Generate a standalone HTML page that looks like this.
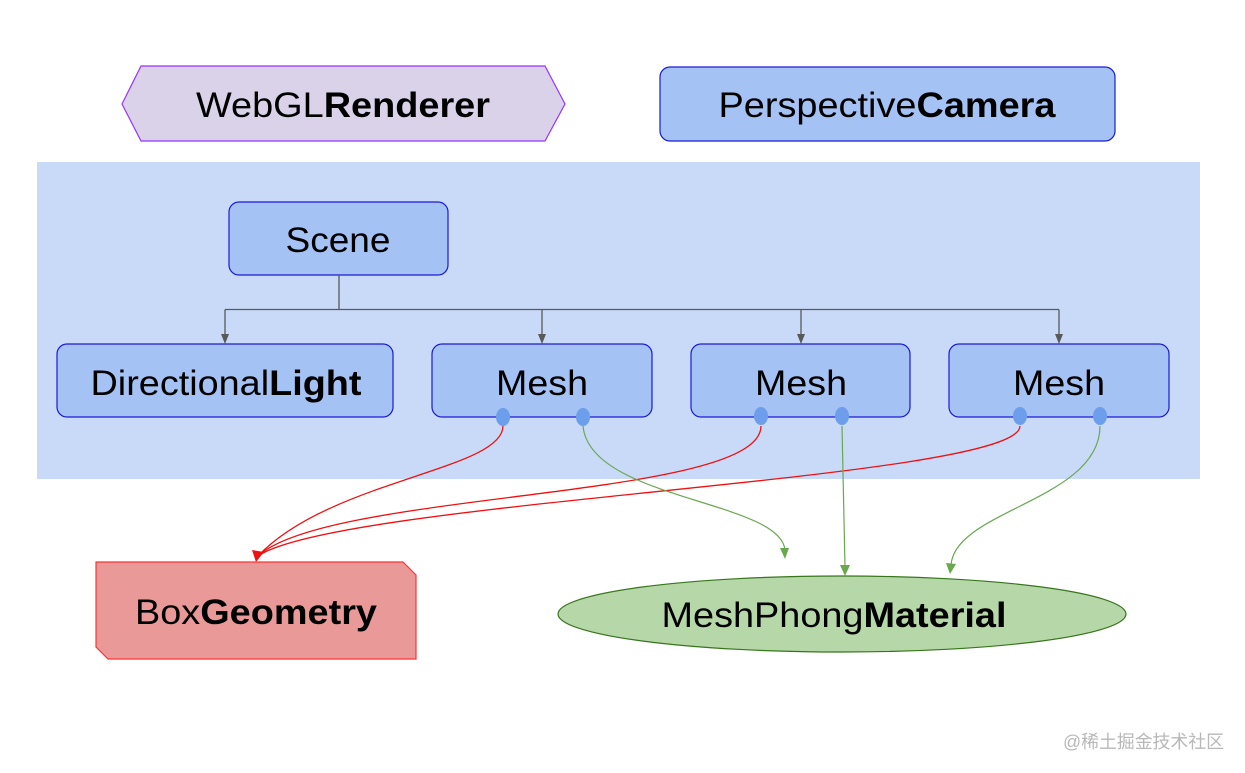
<!DOCTYPE html>
<html><head><meta charset="utf-8"><style>
html,body{margin:0;padding:0;background:#fff;}
svg{display:block;}
text{font-family:"Liberation Sans",Arial,sans-serif;font-size:35px;fill:#000;}
.b{font-weight:bold;}
.wm{font-family:"Liberation Sans","Noto Sans CJK SC",sans-serif;font-size:18px;fill:#b8b8b8;}
</style></head><body>
<svg width="1245" height="773" viewBox="0 0 1245 773" xmlns="http://www.w3.org/2000/svg">
<rect x="37" y="162" width="1163" height="317" fill="#c9daf8"/>
<polygon points="122,104 141,66 545,66 565,104 545,141 141,141" fill="#d9d2e9" stroke="#9933ff" stroke-width="1.2"/>
<text x="343" y="117" text-anchor="middle" textLength="294" lengthAdjust="spacingAndGlyphs">WebGL<tspan class="b">Renderer</tspan></text>
<rect x="660" y="67" width="455" height="74" rx="10" fill="#a4c2f4" stroke="#1a1ad6" stroke-width="1.2"/>
<text x="887" y="117" text-anchor="middle" textLength="337" lengthAdjust="spacingAndGlyphs">Perspective<tspan class="b">Camera</tspan></text>
<rect x="229" y="202" width="219" height="73" rx="10" fill="#a4c2f4" stroke="#1a1ad6" stroke-width="1.2"/>
<text x="338" y="252" text-anchor="middle" textLength="105" lengthAdjust="spacingAndGlyphs">Scene</text>
<g stroke="#595959" stroke-width="1.3" fill="none">
<path d="M339,275 V309.5 M225,309.5 H1059 M225,309.5 V337 M542,309.5 V337 M801,309.5 V337 M1059,309.5 V337"/>
</g>
<g fill="#595959">
<path d="M221,334 L229,334 L225,344 z"/><path d="M538,334 L546,334 L542,344 z"/><path d="M797,334 L805,334 L801,344 z"/><path d="M1055,334 L1063,334 L1059,344 z"/>
</g>
<rect x="57" y="344" width="336" height="73" rx="10" fill="#a4c2f4" stroke="#1a1ad6" stroke-width="1.2"/>
<text x="226" y="395" text-anchor="middle" textLength="271" lengthAdjust="spacingAndGlyphs">Directional<tspan class="b">Light</tspan></text>
<rect x="432" y="344" width="220" height="73" rx="10" fill="#a4c2f4" stroke="#1a1ad6" stroke-width="1.2"/>
<text x="542" y="395" text-anchor="middle" textLength="92" lengthAdjust="spacingAndGlyphs">Mesh</text>
<rect x="691" y="344" width="219" height="73" rx="10" fill="#a4c2f4" stroke="#1a1ad6" stroke-width="1.2"/>
<text x="801" y="395" text-anchor="middle" textLength="92" lengthAdjust="spacingAndGlyphs">Mesh</text>
<rect x="949" y="344" width="220" height="73" rx="10" fill="#a4c2f4" stroke="#1a1ad6" stroke-width="1.2"/>
<text x="1059" y="395" text-anchor="middle" textLength="92" lengthAdjust="spacingAndGlyphs">Mesh</text>
<g fill="none" stroke="#ee1111" stroke-width="1.3">
<path d="M503,426 C503,470 330,480 258,556"/>
<path d="M761,426 C761,500 330,490 258,556"/>
<path d="M1020,426 C1020,480 340,500 258,556"/>
</g>
<path d="M252,550 L264,552 L256,562 z" fill="#ee1111"/>
<g fill="none" stroke="#6aa84f" stroke-width="1.2">
<path d="M583,426 C590,500 780,500 785,550"/>
<path d="M842,426 L845,567"/>
<path d="M1100,426 C1100,500 955,510 951,565"/>
</g>
<g fill="#6aa84f">
<path d="M780,548 L789,548 L785,559 z"/>
<path d="M840,565 L850,565 L845,576 z"/>
<path d="M946,563 L956,564 L950,574 z"/>
</g>
<g fill="#6d9eeb">
<ellipse cx="503" cy="417" rx="7" ry="9"/><ellipse cx="583" cy="417" rx="7" ry="9"/>
<ellipse cx="761" cy="416" rx="7" ry="9"/><ellipse cx="842" cy="416" rx="7" ry="9"/>
<ellipse cx="1020" cy="416" rx="7" ry="9"/><ellipse cx="1100" cy="416" rx="7" ry="9"/>
</g>
<polygon points="96,562 403,562 416,575 416,659 108,659 96,647" fill="#ea9999" stroke="#ff3333" stroke-width="1.2"/>
<text x="256" y="624" text-anchor="middle" textLength="242" lengthAdjust="spacingAndGlyphs">Box<tspan class="b">Geometry</tspan></text>
<ellipse cx="842" cy="614" rx="284" ry="38" fill="#b6d7a8" stroke="#38761d" stroke-width="1.2"/>
<text x="834" y="627" text-anchor="middle" textLength="345" lengthAdjust="spacingAndGlyphs">MeshPhong<tspan class="b">Material</tspan></text>
<text class="wm" x="1063" y="748" textLength="161" lengthAdjust="spacingAndGlyphs">@稀土掘金技术社区</text>
</svg>
</body></html>
